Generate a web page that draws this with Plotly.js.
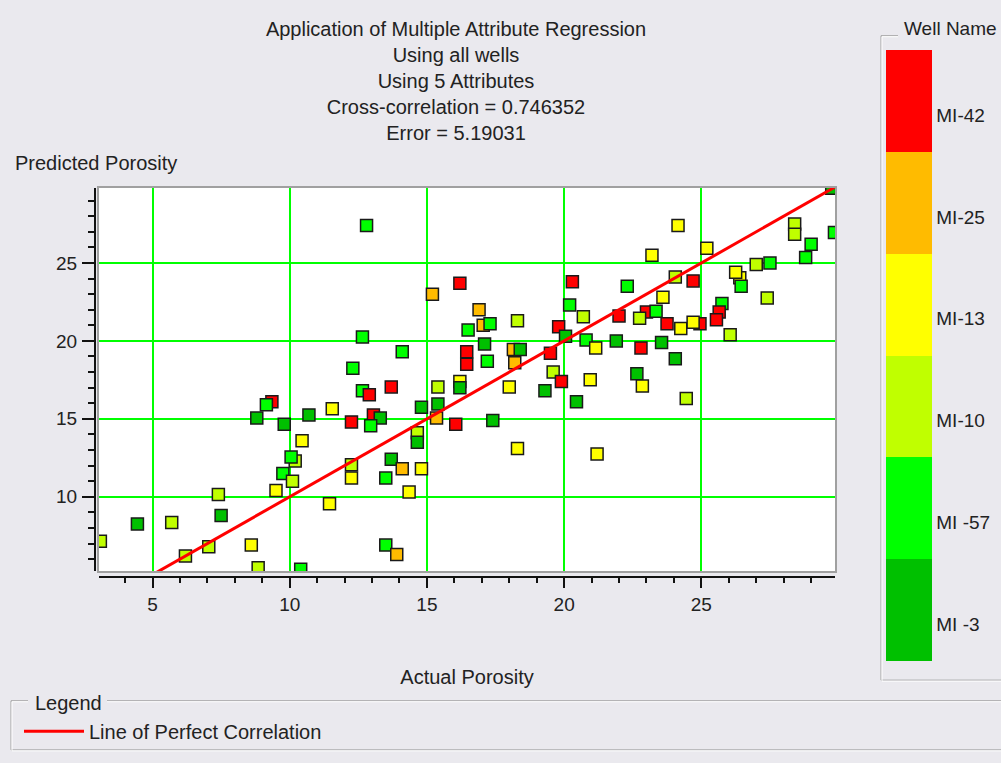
<!DOCTYPE html>
<html><head><meta charset="utf-8">
<script src="https://cdn.plot.ly/plotly-3.0.1.min.js"></script>
<style>html,body{margin:0;padding:0;background:#eae9ee;} #chart{width:1001px;height:763px;}</style>
</head><body><div id="chart"></div>
<script>
// ---------------- data ----------------
const titleLines = ['Application of Multiple Attribute Regression','Using all wells','Using 5 Attributes','Cross-correlation = 0.746352','Error = 5.19031'];
const wellNames = ['MI -3','MI -57','MI-10','MI-13','MI-25','MI-42'];
const wellColors = ['#00c000','#00ff00','#c0ff00','#ffff00','#ffbb00','#ff0000'];
const actualPorosity = [
  12.8,15.2,16.2,16.9,17.05,17.3,18.3,16.5,17.1,16.45,16.45,17.2,18.15,18.4,18.2,20.3,20.2,19.8,20.05,19.5,19.6,19.9,12.65,14.1,12.3,
  13.7,12.65,12.9,11.55,15.4,16.2,16.2,18.0,19.3,20.45,14.8,15.4,15.35,16.05,17.4,12.25,13.05,13.3,12.95,14.65,14.65,18.3,12.25,12.25,13.7,14.1,14.8,13.5,14.35,11.45,13.5,13.9,
  9.35,9.15,8.8,9.8,10.7,10.45,10.2,10.05,9.75,10.1,9.5,7.4,7.5,4.45,5.7,3.1,6.2,7.05,8.6,8.85,10.4,
  29.75,28.4,28.4,29.85,29.0,28.8,24.15,25.2,23.2,27.0,27.5,26.4,26.25,26.45,24.05,24.7,22.3,27.4,23.6,25.75,25.65,25.55,26.05,20.7,22.0,23.0,22.75,23.35,23.75,24.95,24.25,24.7,20.8,21.15,21.9,22.8,23.55,24.05,20.95,22.65,22.85,24.45,21.2
];
const predictedPorosity = [
  27.4,23.0,23.7,22.0,21.0,21.1,21.3,20.7,19.8,19.3,18.5,18.7,19.45,19.45,18.6,23.8,22.3,20.9,20.3,19.2,18.0,17.4,20.25,19.3,18.25,
  17.05,16.8,16.55,15.65,17.05,17.4,17.0,17.05,16.8,16.1,15.75,15.95,15.05,14.65,14.9,14.8,15.25,15.05,14.55,14.1,13.5,13.1,12.05,11.2,12.4,11.8,11.8,11.2,10.3,9.55,6.9,6.3,
  16.1,15.9,15.05,14.65,15.25,13.6,12.3,12.55,11.5,11.0,10.4,10.15,8.8,8.25,8.35,7.15,6.2,6.8,6.9,5.45,5.35,
  29.8,27.5,26.85,26.95,26.2,25.35,27.4,25.95,25.5,24.9,25.0,24.05,24.4,23.5,24.1,23.85,23.5,22.75,22.8,22.4,21.85,21.35,20.4,21.55,21.6,21.85,21.45,21.9,21.1,21.1,20.8,21.2,20.05,19.55,20.0,19.55,19.9,18.85,17.5,17.9,17.1,16.3,12.75
];
const pointWell = [
  'MI -57','MI-25','MI-42','MI-25','MI-25','MI -57','MI-10','MI -57','MI -3','MI-42','MI-42','MI -57','MI-25','MI -3','MI-25','MI-42','MI -57','MI-42','MI -3','MI-42','MI-10','MI-42','MI -57','MI -57','MI -57',
  'MI-42','MI -57','MI-42','MI-13','MI-10','MI-13','MI -3','MI-13','MI -3','MI -3','MI -3','MI -3','MI-25','MI-42','MI -3','MI-42','MI-42','MI -3','MI -57','MI-10','MI -3','MI-13','MI-10','MI-13','MI -3','MI-25','MI-13','MI -57','MI-13','MI-13','MI -57','MI-25',
  'MI-42','MI -57','MI -3','MI -3','MI -3','MI-13','MI-10','MI -57','MI -57','MI-10','MI-13','MI-10','MI -3','MI -3','MI-10','MI-10','MI-10','MI-10','MI-13','MI-10','MI -57',
  'MI -3','MI-10','MI-10','MI -57','MI -57','MI -57','MI-13','MI-13','MI-13','MI-10','MI -57','MI-13','MI-13','MI -57','MI-10','MI-42','MI -57','MI-10','MI-13','MI -57','MI-42','MI-42','MI-10','MI-10','MI-42','MI-42','MI-10','MI -57','MI-42','MI-42','MI-13','MI-13','MI -57','MI-13','MI -3','MI-42','MI -3','MI -3','MI-13','MI -3','MI-13','MI-10','MI-13'
];
const perfectLine = [0, 30];
const xRange = [3.05, 29.87];
const yRange = [5.23, 29.81];

// ---------------- layout helpers ----------------
const L = 95, T = 188, W = 740, H = 396;          // paper area in px
const px = v => (v - L) / W;
const py = v => (T + H - v) / H;
const font = 'Liberation Sans, Arial, sans-serif';
const txt = '#222';
const bg = '#eae9ee';

const n = wellNames.length;
const colorscale = [];
wellColors.forEach((c, i) => { colorscale.push([i / n, c]); colorscale.push([(i + 1) / n, c]); });
const wellIndex = pointWell.map(w => wellNames.indexOf(w));

const traces = [
  {
    type: 'scatter', mode: 'markers', x: actualPorosity, y: predictedPorosity,
    showlegend: false, name: 'Wells',
    marker: {
      symbol: 'square', size: 12, color: wellIndex, cmin: -0.5, cmax: n - 0.5,
      colorscale: colorscale, showscale: true, line: {color: '#1a1a1a', width: 1.5},
      colorbar: {
        x: px(886), xanchor: 'left', xpad: 0, ypad: 0,
        y: py(358.5), yanchor: 'middle',
        thickness: 46, thicknessmode: 'pixels', len: 611, lenmode: 'pixels',
        outlinewidth: 0, ticks: '',
        tickvals: wellNames.map((_, i) => i - 0.14), ticktext: wellNames,
        tickfont: {family: font, size: 19, color: txt}
      }
    }
  },
  {
    type: 'scatter', mode: 'lines', x: perfectLine, y: perfectLine,
    name: 'Line of Perfect Correlation', line: {color: '#ff0000', width: 3}
  },
  { type: 'scatter', x: [], y: [], xaxis: 'x2', yaxis: 'y2', showlegend: false, hoverinfo: 'skip' }
];

const lineSeg = (x0, y0, x1, y1, c) => ({type: 'line', xref: 'paper', yref: 'paper',
  x0: px(x0), y0: py(y0), x1: px(x1), y1: py(y1), line: {color: c, width: 1}});
const box = [];
[['#a0a0a0', 0], ['#ffffff', 1]].forEach(([c, o]) => {
  box.push(lineSeg(881 + o, 33 + o, 898, 33 + o, c));
  box.push(lineSeg(881 + o, 33 + o, 881 + o, 689 + o, c));
  box.push(lineSeg(881 + o, 689 + o, 1001, 689 + o, c));
  box.push(lineSeg(11 + o, 710 + o, 28, 710 + o, c));
  box.push(lineSeg(107, 710 + o, 1001, 710 + o, c));
  box.push(lineSeg(11 + o, 710 + o, 11 + o, 760 + o, c));
  box.push(lineSeg(11 + o, 760 + o, 1001, 760 + o, c));
});

const dom = {x: [4 / W, 1], y: [6 / H, 1]};
const tickAxis = {
  showline: true, linecolor: '#111', linewidth: 2, ticks: 'outside', tickwidth: 2, tickcolor: '#111',
  dtick: 5, tick0: 0, showgrid: false, zeroline: false,
  tickfont: {family: font, size: 19, color: txt}
};

const layout = {
  width: 1001, height: 763,
  margin: {l: L, r: 1001 - L - W, t: T, b: 763 - T - H, pad: 0},
  paper_bgcolor: bg, plot_bgcolor: '#ffffff',
  font: {family: font, color: txt},
  title: {text: titleLines.join('<br>'), x: 456 / 1001, xref: 'container', xanchor: 'center',
    y: 1 - 36 / 763, yref: 'container', yanchor: 'top', font: {family: font, size: 20, color: txt}},
  xaxis: {domain: dom.x, range: xRange, showline: true, mirror: true, linecolor: '#a0a0a0', linewidth: 2,
    showgrid: true, gridcolor: '#00ff00', gridwidth: 2, dtick: 5, tick0: 0, ticks: '', showticklabels: false, zeroline: false},
  yaxis: {domain: dom.y, range: yRange, showline: true, mirror: true, linecolor: '#a0a0a0', linewidth: 2,
    showgrid: true, gridcolor: '#00ff00', gridwidth: 2, dtick: 5, tick0: 0, ticks: '', showticklabels: false, zeroline: false},
  xaxis2: Object.assign({}, tickAxis, {overlaying: 'x', anchor: 'free', position: 0, domain: dom.x, range: xRange,
    ticklen: 10, minor: {dtick: 1, ticks: 'outside', ticklen: 5, tickwidth: 2, tickcolor: '#111', showgrid: false},
    title: {text: 'Actual Porosity', font: {family: font, size: 20, color: txt}, standoff: 55}}),
  yaxis2: Object.assign({}, tickAxis, {overlaying: 'y', anchor: 'free', position: 0, domain: dom.y, range: yRange,
    ticklen: 12, ticklabelstandoff: 1, minor: {dtick: 1, ticks: 'outside', ticklen: 6, tickwidth: 2, tickcolor: '#111', showgrid: false}}),
  legend: {x: px(19), y: py(741), xanchor: 'left', yanchor: 'middle', orientation: 'h',
    bgcolor: 'rgba(0,0,0,0)', borderwidth: 0, itemwidth: 60, font: {family: font, size: 20, color: txt}},
  shapes: box,
  annotations: [
    {text: 'Predicted Porosity', xref: 'paper', yref: 'paper', x: px(13), y: py(163), xanchor: 'left', yanchor: 'middle',
      showarrow: false, font: {family: font, size: 20, color: txt}},
    {text: 'Well Name', xref: 'paper', yref: 'paper', x: px(902), y: py(26), xanchor: 'left', yanchor: 'middle',
      showarrow: false, font: {family: font, size: 19, color: txt}},
    {text: 'Legend', xref: 'paper', yref: 'paper', x: px(33), y: py(712), xanchor: 'left', yanchor: 'middle',
      showarrow: false, font: {family: font, size: 20, color: txt}}
  ]
};

Plotly.newPlot('chart', traces, layout, {displayModeBar: false, staticPlot: true});
</script></body></html>
